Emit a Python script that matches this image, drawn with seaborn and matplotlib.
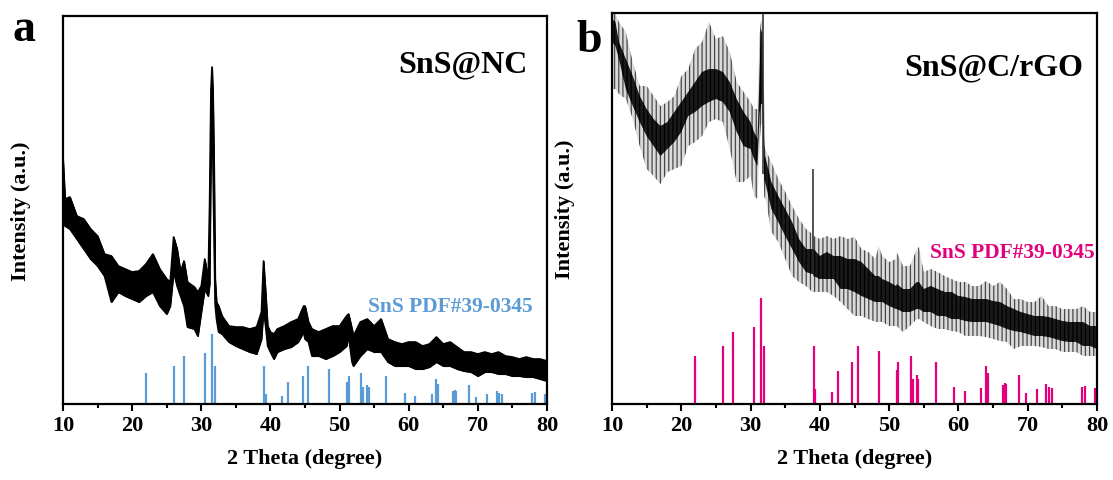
import numpy as np
import pandas as pd
import matplotlib
matplotlib.use("Agg")
import matplotlib.pyplot as plt
import seaborn as sns
from matplotlib.ticker import MultipleLocator

# ---------------- data ----------------
# Panel a: SnS@NC, noisy XRD band (upper / lower envelope, a.u.)
a_theta = [10.0, 10.3, 11, 12, 13, 14, 15, 16, 17, 18, 19, 20, 21, 22, 23, 24, 25, 25.5,
           26.0, 26.5, 27, 27.5, 28, 29, 29.5, 30, 30.5, 31, 31.2, 31.4, 31.55, 31.7,
           31.85, 32.0, 32.2, 32.5, 33, 34, 35, 36, 37, 38, 38.7, 39.0, 39.3, 39.6, 40,
           40.5, 41, 42, 43, 44, 44.8, 45.0, 45.5, 46, 47, 48, 49, 50, 51, 51.3, 51.8,
           52, 53, 54, 55, 56, 57, 58, 59, 60, 61, 62, 63, 64, 65, 66, 67, 68, 69, 70,
           71, 72, 73, 74, 75, 76, 77, 78, 79, 80]
a_upper = [245, 205, 207, 188, 185, 175, 168, 150, 148, 138, 135, 132, 133, 140, 150, 135,
           125, 122, 167, 155, 132, 143, 122, 117, 112, 118, 145, 125, 200, 315, 337, 305,
           235, 125, 102, 98, 88, 78, 77, 77, 75, 77, 92, 143, 112, 78, 72, 70, 75, 78,
           82, 85, 98, 98, 82, 75, 72, 75, 78, 78, 88, 90, 75, 68, 82, 85, 78, 85, 65,
           62, 60, 62, 62, 58, 60, 67, 60, 62, 57, 52, 52, 50, 52, 50, 52, 48, 47, 45,
           47, 45, 45, 43]
a_lower = [180, 178, 175, 165, 155, 145, 138, 128, 102, 112, 108, 105, 102, 108, 112, 98,
           90, 98, 132, 118, 108, 98, 77, 75, 68, 92, 115, 108, 120, 260, 322, 235,
           165, 100, 85, 72, 70, 62, 58, 55, 52, 50, 65, 95, 78, 58, 52, 45, 52, 55,
           57, 62, 72, 65, 62, 48, 48, 45, 48, 52, 58, 68, 42, 38, 48, 55, 52, 52, 42,
           38, 38, 38, 35, 35, 37, 42, 38, 38, 35, 33, 32, 28, 32, 32, 30, 30, 28, 28,
           27, 27, 25, 23]

# Panel b: SnS@C/rGO, outer spikes envelope and dense core band (a.u.)
b_theta = [10.0, 10.5, 11, 12, 13, 14, 15, 16, 17, 18, 19, 20, 21, 22, 23, 24, 25, 26, 27,
           28, 29, 30, 30.5, 31.0, 31.3, 31.5, 31.7, 31.85, 32.0, 32.1, 33, 34, 35, 36,
           37, 38, 38.9, 39.0, 39.1, 40, 41, 42, 43, 44, 45, 46, 47, 48, 48.5, 49, 50,
           51, 51.1, 52, 53, 54, 54.3, 55, 56, 57, 58, 59, 60, 61, 62, 63, 64, 65, 66,
           67, 68, 69, 70, 71, 72, 73, 74, 75, 76, 77, 78, 79, 80]
b_outer_top = [390, 390, 382, 372, 342, 318, 318, 308, 298, 302, 308, 328, 335, 355, 362,
               382, 365, 368, 352, 322, 312, 302, 295, 295, 370, 382, 385, 391, 260, 255,
               242, 225, 212, 198, 185, 175, 170, 235, 168, 165, 168, 165, 168, 165, 167,
               155, 152, 145, 158, 148, 142, 145, 152, 138, 138, 155, 157, 132, 135, 132,
               128, 125, 122, 122, 118, 118, 123, 118, 122, 115, 105, 105, 102, 102, 108,
               98, 98, 95, 95, 95, 98, 92, 92]
b_core_top = [385, 382, 362, 345, 328, 308, 295, 285, 278, 282, 292, 302, 312, 322, 332,
              335, 335, 332, 322, 305, 292, 282, 272, 265, 330, 375, 370, 300, 245, 248,
              222, 208, 195, 182, 165, 155, 155, 155, 155, 148, 152, 148, 148, 145, 145,
              142, 135, 128, 128, 125, 122, 118, 120, 115, 115, 122, 122, 115, 118, 115,
              112, 112, 108, 107, 105, 105, 105, 103, 102, 98, 95, 92, 90, 88, 88, 87, 85,
              83, 82, 82, 82, 78, 78]
b_core_bottom = [362, 358, 345, 315, 298, 282, 268, 258, 248, 255, 262, 272, 288, 292, 298,
                 302, 305, 302, 292, 272, 258, 255, 245, 238, 290, 300, 300, 260, 225, 222,
                 195, 182, 168, 155, 142, 132, 130, 130, 128, 125, 125, 125, 115, 115, 112,
                 108, 105, 102, 102, 102, 98, 95, 95, 92, 92, 95, 95, 92, 92, 88, 88, 85,
                 85, 83, 82, 82, 82, 80, 78, 75, 73, 72, 70, 68, 68, 67, 65, 63, 62, 62,
                 58, 58, 55]
b_outer_bottom = [315, 315, 310, 305, 285, 258, 235, 228, 220, 232, 235, 238, 258, 262, 268,
                  282, 285, 282, 255, 222, 222, 228, 208, 205, 260, 280, 280, 230, 205, 208,
                  172, 162, 145, 128, 122, 118, 112, 112, 112, 112, 112, 108, 102, 95, 88,
                  88, 85, 82, 82, 82, 78, 78, 78, 72, 78, 85, 85, 82, 78, 75, 75, 73, 72,
                  68, 68, 68, 67, 65, 63, 62, 55, 58, 58, 58, 57, 55, 55, 52, 52, 52, 48,
                  48, 48]
# isolated sharp spikes in panel b
b_spike_theta = [31.85, 39.0]
b_spike_top = [391, 235]
b_spike_bottom = [230, 130]

# Standard card SnS PDF#39-0345: positions (2 theta) and relative intensities
pdf_theta = [22.0, 26.0, 27.5, 30.5, 31.55, 32.0, 39.1, 39.3, 41.7, 42.6, 44.7, 45.5, 48.5,
             51.1, 51.35, 53.1, 53.4, 54.0, 54.2, 56.7, 59.4, 60.9, 63.3, 64.0, 64.2, 66.4,
             66.7, 66.9, 68.7, 69.7, 71.35, 72.7, 73.05, 73.5, 77.8, 78.25, 79.75, 80.0]
pdf_rel = [45, 55, 68, 73, 100, 55, 55, 14, 11, 31, 40, 55, 50, 32, 40, 45, 24, 27, 24, 40,
           16, 12, 15, 36, 29, 18, 20, 19, 27, 10, 14, 19, 16, 15, 16, 17, 15, 15]

xticks = [10, 20, 30, 40, 50, 60, 70, 80]

# ---------------- style ----------------
sns.set_theme(style="ticks")
plt.rcParams["font.family"] = ["Liberation Serif", "DejaVu Serif"]
plt.rcParams["font.weight"] = "bold"
plt.rcParams["text.color"] = "black"
plt.rcParams["axes.labelcolor"] = "black"
plt.rcParams["xtick.color"] = "black"
plt.rcParams["hatch.linewidth"] = 0.9

W, H = 1113, 481
fig = plt.figure(figsize=(W / 100, H / 100), dpi=100)

def px_axes(l, t, r, b):
    return fig.add_axes([l / W, 1 - b / H, (r - l) / W, (b - t) / H])

ax_a = px_axes(63, 17, 547, 405)
ax_b = px_axes(612, 14, 1097, 405)

blue = "#5b9bd5"
pink = "#e3007d"

# Panel a
da = pd.DataFrame({"theta": a_theta, "upper": a_upper, "lower": a_lower})
ax_a.fill_between(da["theta"], da["lower"], da["upper"], color="black", linewidth=0.8)
sns.lineplot(data=da, x="theta", y="upper", ax=ax_a, color="black", linewidth=1.2)
sns.lineplot(data=da, x="theta", y="lower", ax=ax_a, color="black", linewidth=1.2)
ax_a.vlines(pdf_theta, 0, np.array(pdf_rel) * 0.70, color=blue, linewidth=1.6)
ax_a.set_ylim(0, 388)

# Panel b
db = pd.DataFrame({"theta": b_theta, "ot": b_outer_top, "ct": b_core_top,
                   "cb": b_core_bottom, "ob": b_outer_bottom})
ax_b.fill_between(db["theta"], db["ob"], db["ot"], facecolor="#dadada",
                  edgecolor="#474747", hatch="||||", linewidth=0)
ax_b.fill_between(db["theta"], db["cb"], db["ct"], facecolor="#1a1a1a",
                  edgecolor="black", hatch="||||", linewidth=0)
ax_b.vlines(b_spike_theta, b_spike_bottom, b_spike_top, color="#2a2a2a", linewidth=1.1)
ax_b.vlines(pdf_theta, 0, np.array(pdf_rel) * 1.06, color=pink, linewidth=1.6)
ax_b.set_ylim(0, 391)

for ax in (ax_a, ax_b):
    ax.set_xlim(10, 80)
    ax.set_xticks(xticks)
    ax.xaxis.set_minor_locator(MultipleLocator(5))
    ax.set_yticks([])
    for s in ax.spines.values():
        s.set_linewidth(1.6)
        s.set_color("black")
        s.set_visible(True)
    ax.tick_params(axis="x", which="major", direction="out", length=5, width=1.5,
                   labelsize=16, pad=3, colors="black")
    ax.tick_params(axis="x", which="minor", direction="out", length=3, width=1.5,
                   colors="black")
    for lab in ax.get_xticklabels():
        lab.set_fontweight("bold")
    ax.set_xlabel("2 Theta (degree)", fontsize=16, fontweight="bold", labelpad=9,
                  color="black")
    ax.set_ylabel("Intensity (a.u.)", fontsize=16, fontweight="bold", color="black")

ax_a.yaxis.set_label_coords(-0.066, 0.5)
ax_b.yaxis.set_label_coords(-0.076, 0.5)

ax_a.text(1 - (547 - 528) / 484, (405 - 72) / 388, "SnS@NC", transform=ax_a.transAxes,
          ha="right", va="baseline", fontsize=23, fontweight="bold", color="black")
ax_b.text(1 - (1097 - 1083) / 485, (405 - 75) / 391, "SnS@C/rGO", transform=ax_b.transAxes,
          ha="right", va="baseline", fontsize=23, fontweight="bold", color="black")
ax_a.text(1 - (547 - 533) / 484, (405 - 312) / 388, "SnS PDF#39-0345", transform=ax_a.transAxes,
          ha="right", va="baseline", fontsize=15.5, fontweight="bold", color=blue)
ax_b.text(1 - (1097 - 1095) / 485, (405 - 258) / 391, "SnS PDF#39-0345", transform=ax_b.transAxes,
          ha="right", va="baseline", fontsize=15.5, fontweight="bold", color=pink)

fig.text(12 / W, 1 - 41 / H, "a", fontsize=33, fontweight="bold", va="baseline", ha="left")
fig.text(576 / W, 1 - 52 / H, "b", fontsize=33, fontweight="bold", va="baseline", ha="left")

fig.savefig("out.png", dpi=100, facecolor="white")
